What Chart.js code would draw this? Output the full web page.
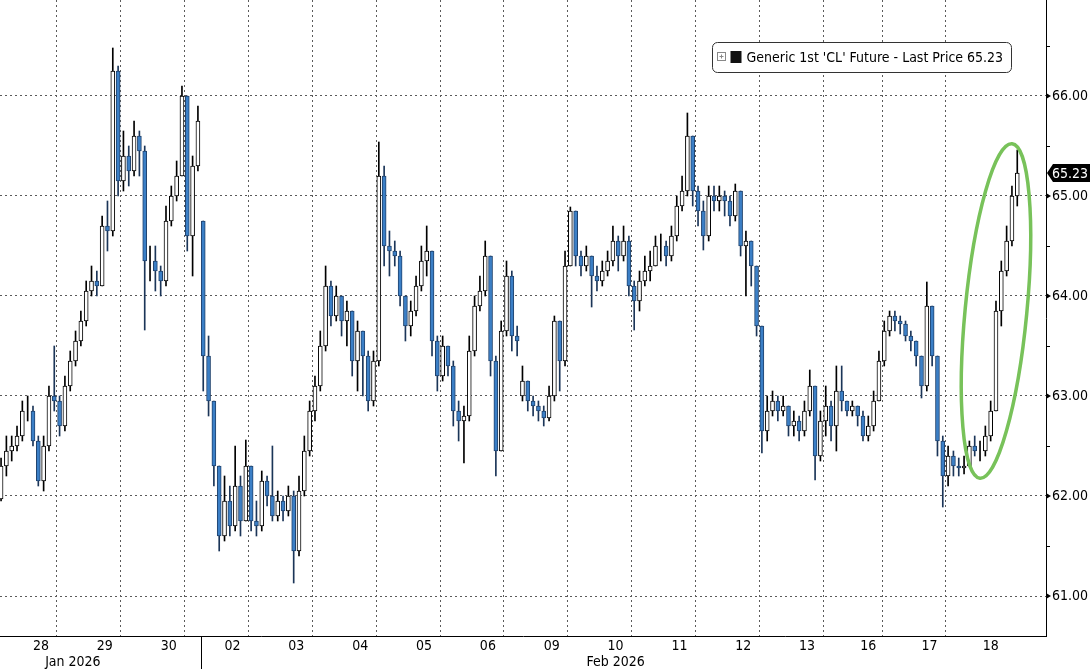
<!DOCTYPE html>
<html>
<head>
    <meta charset="utf-8">
    <title>Generic 1st CL Future</title>
    <script src="https://cdn.jsdelivr.net/npm/chart.js"></script>
    <style>
        * {
            margin: 0;
            padding: 0;
            box-sizing: border-box;
        }

        body {
            background: #ffffff;
            width: 1090px;
            height: 669px;
            overflow: hidden;
        }

        canvas {
            display: block;
        }
    </style>
</head>
<body>
    <canvas id="clChart" width="1090" height="669"></canvas>

    <script>
        // sessions shown on the axis (27 Jan is only a sliver at the left edge)
        const dayLabels = ['27', '28', '29', '30', '02', '03', '04', '05', '06', '09', '10', '11', '12', '13', '16', '17', '18'];
        const barsPerDay = [2, 12, 12, 12, 12, 12, 12, 12, 12, 12, 12, 12, 12, 12, 11, 12, 11];
        const monthLabels = [
            { day: '29', at: 'start', text: 'Jan 2026' },
            { day: '10', at: 'middle', text: 'Feb 2026' }
        ];

        // bar closes, one row per session
        const closes = [
            62.30, 62.45,
            62.50, 62.60, 62.85, 62.85, 62.55, 62.15, 62.50, 63.00, 62.95, 62.70, 63.10, 63.35,
            63.55, 63.75, 64.05, 64.15, 64.10, 64.70, 64.65, 66.25, 65.15, 65.40, 65.25, 65.60,
            65.45, 64.35, 64.35, 64.25, 64.15, 64.75, 65.00, 65.20, 66.00, 64.60, 65.30, 65.75,
            63.40, 62.95, 62.30, 61.60, 61.95, 61.70, 62.10, 61.75, 62.30, 61.75, 61.70, 62.15,
            62.00, 61.80, 61.95, 61.85, 62.00, 61.45, 62.05, 62.45, 62.85, 63.10, 63.50, 64.10,
            63.80, 64.00, 63.75, 63.85, 63.35, 63.65, 63.40, 62.95, 63.35, 65.20, 64.50, 64.45,
            64.40, 64.00, 63.70, 63.85, 64.10, 64.35, 64.45, 63.55, 63.20, 63.50, 63.30, 62.85,
            62.75, 62.80, 63.45, 63.90, 64.05, 64.40, 63.35, 62.45, 63.65, 64.20, 63.60, 63.55,
            63.15, 62.95, 62.90, 62.85, 62.78, 63.00, 63.75, 63.35, 64.30, 64.85, 64.40, 64.30,
            64.40, 64.20, 64.15, 64.25, 64.35, 64.55, 64.40, 64.55, 64.10, 63.95, 64.15, 64.25,
            64.30, 64.50, 64.50, 64.40, 64.60, 64.90, 65.05, 65.60, 65.05, 64.85, 64.60, 65.00,
            64.95, 65.00, 64.95, 64.80, 65.05, 64.50, 64.55, 64.30, 63.70, 62.65, 62.85, 62.95,
            62.85, 62.90, 62.70, 62.75, 62.65, 62.85, 63.10, 62.40, 62.75, 62.90, 62.70, 63.05,
            62.95, 62.85, 62.90, 62.80, 62.60, 62.70, 62.95, 63.35, 63.65, 63.80, 63.75,
            63.72, 63.60, 63.55, 63.40, 63.10, 63.90, 63.40, 62.55, 62.20, 62.40, 62.30, 62.28,
            62.30, 62.50, 62.45, 62.45, 62.60, 62.85, 63.85, 64.25, 64.55, 65.00, 65.23
        ];

        const highs = [
            62.38, 62.60,
            62.60, 62.70, 62.95, 63.00, 62.90, 62.60, 62.60, 63.10, 63.50, 63.00, 63.20, 63.45,
            63.65, 63.85, 64.15, 64.30, 64.25, 64.80, 64.95, 66.48, 66.30, 65.65, 65.50, 65.75,
            65.65, 65.50, 64.50, 64.50, 64.30, 64.90, 65.10, 65.35, 66.10, 66.00, 65.40, 65.90,
            64.75, 63.60, 62.60, 62.20, 62.20, 62.10, 62.50, 62.20, 62.56, 62.30, 61.95, 62.25,
            62.20, 62.50, 62.05, 62.00, 62.10, 62.05, 62.20, 62.60, 62.95, 63.20, 63.65, 64.30,
            64.15, 64.10, 64.00, 63.95, 63.85, 63.75, 63.65, 63.45, 63.45, 65.54, 65.30, 64.65,
            64.55, 64.45, 64.00, 63.95, 64.20, 64.50, 64.70, 64.45, 63.60, 63.60, 63.50, 63.35,
            62.95, 62.90, 63.60, 64.00, 64.20, 64.55, 64.30, 63.40, 63.75, 64.35, 64.25, 63.70,
            63.30, 63.15, 63.00, 62.95, 62.90, 63.10, 63.80, 63.70, 64.45, 64.89, 64.80, 64.45,
            64.50, 64.40, 64.30, 64.35, 64.45, 64.70, 64.60, 64.70, 64.60, 64.15, 64.25, 64.40,
            64.45, 64.60, 64.62, 64.55, 64.70, 65.00, 65.20, 65.83, 65.60, 65.10, 64.95, 65.10,
            65.10, 65.10, 65.05, 65.00, 65.12, 65.05, 64.65, 64.55, 64.00, 63.70, 63.00, 63.05,
            63.00, 63.00, 62.90, 62.85, 62.80, 62.95, 63.26, 63.10, 62.85, 63.10, 62.95, 63.30,
            63.30, 62.95, 62.95, 62.90, 62.85, 62.80, 63.05, 63.45, 63.75, 63.85, 63.85,
            63.80, 63.75, 63.65, 63.50, 63.40, 64.14, 63.90, 63.40, 62.60, 62.50, 62.45, 62.38,
            62.40, 62.55, 62.60, 62.55, 62.70, 62.95, 63.95, 64.35, 64.70, 65.10, 65.46
        ];

        const lows = [
            61.95, 62.20,
            62.35, 62.45, 62.55, 62.75, 62.50, 62.10, 62.05, 62.45, 62.85, 62.60, 62.65, 63.05,
            63.30, 63.50, 63.70, 64.00, 64.00, 64.10, 64.45, 64.60, 65.00, 65.05, 65.10, 65.20,
            65.20, 63.66, 64.15, 64.05, 64.00, 64.10, 64.70, 64.95, 65.20, 64.45, 64.20, 65.25,
            63.05, 62.80, 62.10, 61.45, 61.55, 61.60, 61.65, 61.60, 61.75, 61.65, 61.60, 61.65,
            61.90, 61.75, 61.75, 61.75, 61.80, 61.13, 61.40, 62.00, 62.40, 62.75, 63.05, 63.45,
            63.70, 63.75, 63.60, 63.50, 63.20, 63.05, 63.00, 62.85, 62.90, 63.30, 64.30, 64.20,
            64.30, 63.90, 63.55, 63.60, 63.80, 64.05, 64.20, 63.40, 63.05, 63.15, 63.20, 62.70,
            62.55, 62.33, 62.75, 63.40, 63.85, 64.00, 63.20, 62.20, 62.50, 63.60, 63.45, 63.40,
            62.95, 62.85, 62.80, 62.75, 62.70, 62.75, 62.95, 63.05, 63.30, 64.30, 64.30, 64.20,
            64.25, 63.89, 64.05, 64.10, 64.20, 64.30, 64.25, 64.35, 64.00, 63.66, 63.85, 64.10,
            64.15, 64.30, 64.35, 64.30, 64.35, 64.55, 64.85, 65.00, 64.90, 64.70, 64.46, 64.55,
            64.85, 64.85, 64.80, 64.70, 64.75, 64.40, 64.00, 64.10, 63.60, 62.43, 62.55, 62.80,
            62.75, 62.80, 62.60, 62.60, 62.55, 62.60, 62.80, 62.16, 62.35, 62.60, 62.55, 62.45,
            62.85, 62.80, 62.80, 62.70, 62.55, 62.55, 62.65, 62.95, 63.30, 63.60, 63.65,
            63.62, 63.55, 63.45, 63.30, 62.98, 63.05, 63.30, 62.40, 61.89, 62.10, 62.20, 62.20,
            62.22, 62.30, 62.40, 62.35, 62.40, 62.55, 62.85, 63.70, 64.20, 64.50, 64.90
        ];

        // session opens that gapped away from the prior close
        const sessionGaps = [['27', 61.97], ['02', 64.75], ['09', 63.00]];

        const priceTicks = [61, 62, 63, 64, 65, 66];
        const seriesName = "Generic 1st 'CL' Future - Last Price";
        // circled rally on the 18th (centre bar / price, half sizes in bars / price)
        const ring = { bar: 187, price: 63.85, halfBars: 5.8, halfPrice: 1.68, tilt: 0.096 };

        const FONT = "Tahoma, 'DejaVu Sans Condensed', 'Liberation Sans', sans-serif";
        const UP_FILL = '#ffffff', UP_LINE = '#000000';
        const DOWN_FILL = '#3b7fc6', DOWN_LINE = '#20436e';

        // first bar of each session
        const dayStart = [];
        let n0 = 0;
        barsPerDay.forEach(n => { dayStart.push(n0); n0 += n; });

        const opens = closes.map((c, i) => i === 0 ? c : closes[i - 1]);
        sessionGaps.forEach(([d, v]) => { opens[dayStart[dayLabels.indexOf(d)]] = v; });

        const isUp = closes.map((c, i) => c >= opens[i]);
        const wickData = closes.map((c, i) => ({
            x: i,
            y: [Math.min(lows[i], opens[i], c), Math.max(highs[i], opens[i], c)]
        }));
        const bodyData = closes.map((c, i) => ({ x: i, y: [opens[i], c] }));

        // x ticks: dotted line at each session boundary, label at each session middle
        const xTicks = [];
        dayLabels.forEach((d, k) => {
            const s = dayStart[k], n = barsPerDay[k];
            const m = monthLabels.find(o => o.day === d);
            if (k > 0) {
                xTicks.push({ value: s - 0.5, line: true, label: m && m.at === 'start' ? ['', m.text] : '' });
                xTicks.push({ value: s + (n - 1) / 2, line: false, label: m && m.at === 'middle' ? [d, m.text] : d });
            }
        });
        const monthBreak = dayStart[dayLabels.indexOf('02')] - 0.5;

        const lastPrice = closes[closes.length - 1];

        const decorations = {
            id: 'decorations',
            afterDraw(chart) {
                const { ctx, chartArea: a, scales: { x, y } } = chart;
                ctx.save();

                // month separator under the axis
                const mx = Math.round(x.getPixelForValue(monthBreak)) + 0.5;
                ctx.strokeStyle = '#000';
                ctx.lineWidth = 1;
                ctx.beginPath();
                ctx.moveTo(mx, a.bottom);
                ctx.lineTo(mx, chart.height);
                ctx.stroke();

                // price axis markers and half-unit ticks
                ctx.fillStyle = '#000';
                priceTicks.forEach(v => {
                    const py = Math.round(y.getPixelForValue(v));
                    ctx.beginPath();
                    ctx.moveTo(a.right, py - 3);
                    ctx.lineTo(a.right + 5, py);
                    ctx.lineTo(a.right, py + 3);
                    ctx.closePath();
                    ctx.fill();
                });
                priceTicks.concat([67]).forEach(v => {
                    const hy = Math.round(y.getPixelForValue(v - 0.5)) + 0.5;
                    if (hy < a.top || hy > a.bottom) return;
                    ctx.beginPath();
                    ctx.moveTo(a.right, hy);
                    ctx.lineTo(a.right + 4, hy);
                    ctx.stroke();
                });

                // last price tag
                const ly = y.getPixelForValue(lastPrice);
                ctx.fillStyle = '#000';
                ctx.beginPath();
                ctx.moveTo(a.right + 1, ly);
                ctx.lineTo(a.right + 7, ly - 9);
                ctx.lineTo(chart.width, ly - 9);
                ctx.lineTo(chart.width, ly + 9);
                ctx.lineTo(a.right + 7, ly + 9);
                ctx.closePath();
                ctx.fill();
                ctx.fillStyle = '#fff';
                ctx.font = '14px ' + FONT;
                ctx.textBaseline = 'middle';
                ctx.textAlign = 'left';
                ctx.fillText(lastPrice.toFixed(2), a.right + 6, ly + 1);

                // highlight ring
                const cx = x.getPixelForValue(ring.bar);
                const cy = y.getPixelForValue(ring.price);
                const rx = x.getPixelForValue(ring.bar + ring.halfBars) - cx;
                const ry = cy - y.getPixelForValue(ring.price + ring.halfPrice);
                ctx.strokeStyle = '#78c25a';
                ctx.lineWidth = 3.5;
                ctx.beginPath();
                ctx.ellipse(cx, cy, rx, ry, ring.tilt, 0, Math.PI * 2);
                ctx.stroke();

                // legend box
                const text = seriesName + ' ' + lastPrice.toFixed(2);
                ctx.font = '14px ' + FONT;
                const tw = ctx.measureText(text).width;
                const right = a.right - 34.5, top = 42.5, h = 30;
                const left = Math.round(right - tw - 43) + 0.5;
                ctx.fillStyle = '#fff';
                ctx.strokeStyle = '#333';
                ctx.lineWidth = 1;
                ctx.beginPath();
                ctx.roundRect(left, top, right - left, h, 5);
                ctx.fill();
                ctx.stroke();
                ctx.strokeStyle = '#888';
                ctx.strokeRect(left + 5, top + 10, 8, 8);
                ctx.beginPath();
                ctx.moveTo(left + 7, top + 14);
                ctx.lineTo(left + 11, top + 14);
                ctx.moveTo(left + 9, top + 12);
                ctx.lineTo(left + 9, top + 16);
                ctx.stroke();
                ctx.fillStyle = '#111';
                ctx.fillRect(left + 18, top + 8.5, 11, 12);
                ctx.fillStyle = '#000';
                ctx.textBaseline = 'middle';
                ctx.fillText(text, left + 34, top + h / 2 + 1);

                ctx.restore();
            }
        };

        new Chart(document.getElementById('clChart'), {
            type: 'bar',
            data: {
                datasets: [
                    {
                        label: 'range',
                        data: wickData,
                        backgroundColor: isUp.map(u => u ? '#000' : '#1b3558'),
                        barThickness: 1,
                        grouped: false,
                        order: 2
                    },
                    {
                        label: 'body',
                        data: bodyData,
                        backgroundColor: isUp.map(u => u ? UP_FILL : DOWN_FILL),
                        borderColor: isUp.map(u => u ? UP_LINE : DOWN_LINE),
                        borderWidth: 1,
                        borderSkipped: false,
                        barThickness: 4,
                        grouped: false,
                        order: 1
                    }
                ]
            },
            options: {
                responsive: false,
                animation: false,
                events: [],
                layout: { padding: 0 },
                plugins: {
                    legend: { display: false },
                    tooltip: { enabled: false },
                    title: { display: false }
                },
                scales: {
                    x: {
                        type: 'linear',
                        min: -0.2,
                        max: 196.4,
                        offset: false,
                        afterBuildTicks: s => { s.ticks = xTicks.map(t => ({ value: t.value })); },
                        afterFit: s => { s.height = 33; s.paddingLeft = 0; s.paddingRight = 0; },
                        ticks: {
                            autoSkip: false,
                            maxRotation: 0,
                            minRotation: 0,
                            padding: 3,
                            color: '#000',
                            font: { family: FONT, size: 14, lineHeight: 1.1 },
                            callback: (v, i) => xTicks[i] ? xTicks[i].label : ''
                        },
                        grid: {
                            drawTicks: false,
                            lineWidth: 1,
                            color: c => (xTicks[c.index] && xTicks[c.index].line) ? '#5a5a5a' : 'rgba(0,0,0,0)'
                        },
                        border: { display: true, color: '#000', width: 1, dash: [2, 3] }
                    },
                    y: {
                        position: 'right',
                        min: 60.6,
                        max: 66.96,
                        afterBuildTicks: s => { s.ticks = priceTicks.map(v => ({ value: v })); },
                        afterFit: s => { s.width = 44; s.paddingTop = 0; s.paddingBottom = 0; },
                        ticks: {
                            padding: 6,
                            color: '#000',
                            font: { family: FONT, size: 14 },
                            callback: v => Number(v).toFixed(2)
                        },
                        grid: { drawTicks: false, lineWidth: 1, color: '#5a5a5a' },
                        border: { display: true, color: '#000', width: 1, dash: [2, 3] }
                    }
                }
            },
            plugins: [decorations]
        });
    </script>
</body>
</html>
